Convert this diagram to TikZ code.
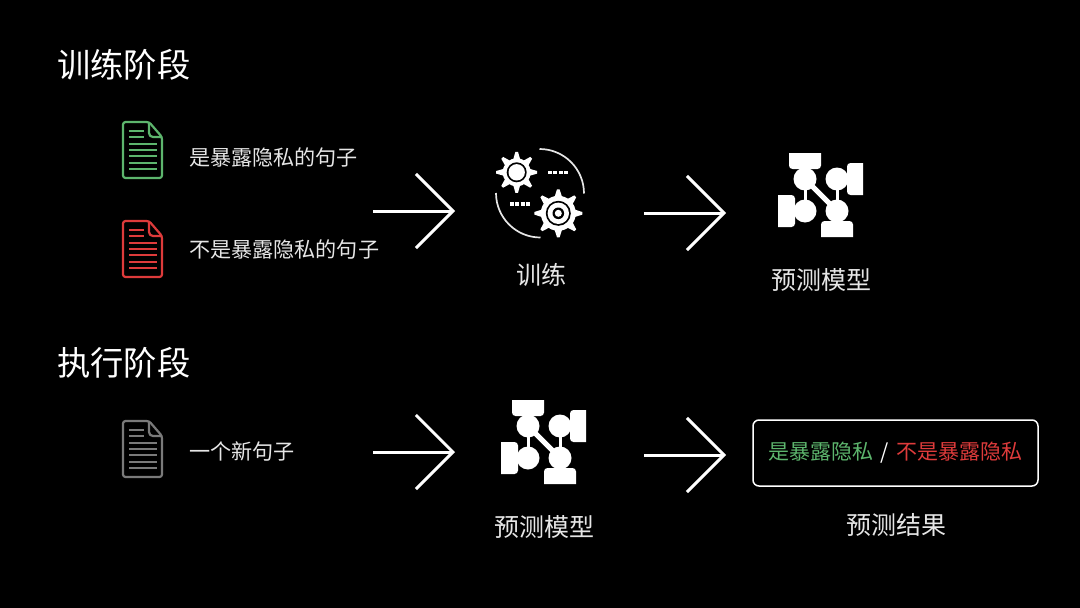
\documentclass[tikz,border=0pt]{standalone}
\usepackage{fontspec}
\setmainfont{Noto Sans CJK SC}
\usetikzlibrary{arrows.meta}
\definecolor{docgreen}{HTML}{5DB56D}
\definecolor{docred}{HTML}{DE3B3B}
\definecolor{docgrey}{HTML}{7A7A7A}
\definecolor{labelgrey}{HTML}{E6E6E6}
\tikzset{
    title/.style={anchor=west,inner sep=0pt,white,font=\fontsize{33.3}{34}\selectfont},
    label/.style={anchor=west,inner sep=0pt,labelgrey,font=\fontsize{21.1}{22}\selectfont},
    caption/.style={inner sep=0pt,labelgrey,font=\fontsize{25}{25}\selectfont},
    bigarrow/.style={white,line width=3pt,-{Straight Barb[length=37pt,width=74pt,line width=3pt]}},
    docicon/.pic={
        \draw[#1,line width=2.2pt,rounded corners=2.5pt,line join=round] (26,0) -- (0,0) -- (0,56) -- (39,56) -- (39,15) -- cycle;
        \draw[#1,line width=2.2pt,rounded corners=4pt] (26,0) -- (26,15) -- (39,15);
        \foreach \y in {9,15}
            \draw[#1,line width=2pt] (6,\y) -- (21,\y);
        \foreach \y in {21.5,28,34,41,47}
            \draw[#1,line width=2pt] (6,\y) -- (34,\y);
    },
    modelicon/.pic={
        \draw[white,line width=3pt] (-16,-16) -- (-16,16) (16,-16) -- (16,16);
        \draw[white,line width=5pt] (-16,-16) -- (16,16);
        \foreach \x/\y in {-16/-16,16/-16,-16/16,16/16}
            \fill[white] (\x,\y) circle[radius=11.5];
        \fill[white] (-32,-42) -- (0,-42) [rounded corners=3.5pt] -- (0,-26) -- (-32,-26) [sharp corners] -- cycle;
        \fill[white] (42,-32) -- (42,0) [rounded corners=3.5pt] -- (26,0) -- (26,-32) [sharp corners] -- cycle;
        \fill[white] (-43,32) -- (-43,0) [rounded corners=3.5pt] -- (-26,0) -- (-26,32) [sharp corners] -- cycle;
        \fill[white] (32,42) -- (0,42) [rounded corners=3.5pt] -- (0,26) -- (32,26) [sharp corners] -- cycle;
    }
}
\begin{document}
\begin{tikzpicture}[x=1pt,y=-1pt]
    \useasboundingbox (0,0) rectangle (1080,608);
    \fill[black] (0,0) rectangle (1080,608);

    % titles
    \node[title] (traintitle) at (57,65) {训练阶段};
    \node[title] (runtitle) at (57,363) {执行阶段};

    % input sentences
    \pic at (123,122) {docicon=docgreen};
    \pic at (123,221) {docicon=docred};
    \pic at (123,421) {docicon=docgrey};
    \node[label] (posinput) at (189,157) {是暴露隐私的句子};
    \node[label] (neginput) at (189,249) {不是暴露隐私的句子};
    \node[label] (newinput) at (189,451) {一个新句子};

    % gears
    \foreach \a in {0,45,...,315}
        \fill[white,shift={(516.7,172.3)},rotate=\a] (-4,-11) -- (-1.3,-20.5) -- (1.3,-20.5) -- (4,-11) -- cycle;
    \fill[white] (516.7,172.3) circle[radius=14];
    \fill[black] (516.7,172.3) circle[radius=10];
    \fill[white] (516.7,172.3) circle[radius=8.2];
    \foreach \a in {0,45,...,315}
        \fill[white,shift={(558.3,213.3)},rotate=\a] (-4.5,-14) -- (-1.3,-24) -- (1.3,-24) -- (4.5,-14) -- cycle;
    \fill[white] (558.3,213.3) circle[radius=17.5];
    \fill[black] (558.3,213.3) circle[radius=12.5];
    \fill[white] (558.3,213.3) circle[radius=10.7];
    \fill[black] (558.3,213.3) circle[radius=5.8];
    \fill[white] (558.3,213.3) circle[radius=3.5];
    \draw[white,line width=3.6pt,dash pattern=on 4pt off 1.33pt] (548,172.3) -- (568,172.3);
    \draw[white,line width=3.6pt,dash pattern=on 4pt off 1.33pt] (510,204) -- (530,204);
    \draw[labelgrey,line width=1.7pt] (539.5,149) arc[start angle=-90,end angle=0,radius=44.5];
    \draw[labelgrey,line width=1.7pt] (496,193) arc[start angle=180,end angle=90,radius=44.5];
    \node[caption] (traincap) at (541,275) {训练};

    % model
    \pic at (821,195) {modelicon};
    \node[caption] (modelcap) at (821,280) {预测模型};
    \pic at (544,442) {modelicon};
    \node[caption] (runcap) at (544,527) {预测模型};

    % result
    \node[draw=labelgrey,line width=1.5pt,rounded corners=6pt,minimum width=285pt,minimum height=66pt,inner sep=0pt,font=\fontsize{21}{22}\selectfont,white] (resultbox) at (895.5,453)
        {\textcolor{docgreen}{是暴露隐私}\hspace{7pt}/\hspace{7pt}\textcolor{docred}{不是暴露隐私}};
    \node[caption] (resultcap) at (896,525) {预测结果};

    % arrows
    \coordinate (a) at (373,211);
    \coordinate (b) at (455,211);
    \coordinate (c) at (644,213);
    \coordinate (d) at (726,213);
    \coordinate (e) at (373,452);
    \coordinate (f) at (455,452);
    \coordinate (g) at (644,455);
    \coordinate (h) at (726,455);
    \draw[bigarrow] (a) -- (b);
    \draw[bigarrow] (c) -- (d);
    \draw[bigarrow] (e) -- (f);
    \draw[bigarrow] (g) -- (h);
\end{tikzpicture}
\end{document}
